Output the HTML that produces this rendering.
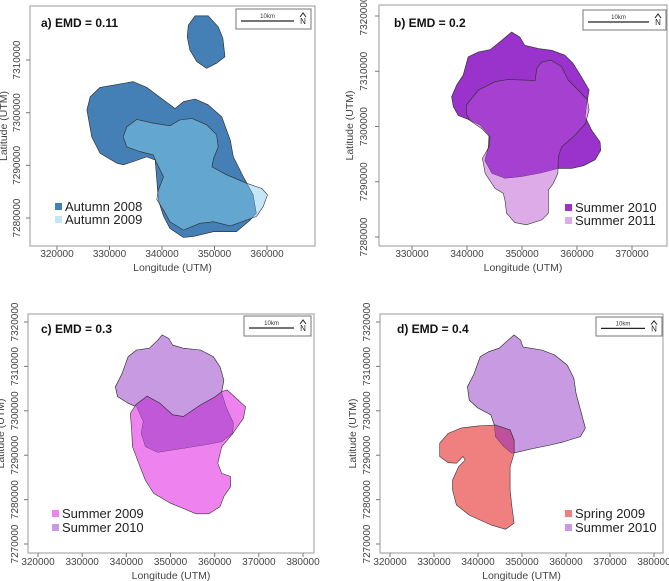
<!DOCTYPE html>
<html><head><meta charset="utf-8">
<style>
html,body{margin:0;padding:0;background:#fff;}
svg{display:block;font-family:"Liberation Sans",sans-serif;}
</style></head>
<body>
<svg id="chart" width="669" height="581" viewBox="0 0 669 581" xmlns="http://www.w3.org/2000/svg"></svg>
<script>
// ---------- data (UTM, thousands of metres) ----------
const aSeries = ["Autumn 2008", "Autumn 2009"];
const aAutumn2008Small = [[346.3,7318.4],[348.8,7318.4],[350.7,7316.3],[351.6,7314.1],[352.0,7310.6],[350.4,7309.4],[348.5,7308.4],[346.6,7309.7],[345.3,7311.9],[344.8,7314.4],[345.0,7316.6]];
const aAutumn2008 = [[328.2,7304.8],[334.5,7305.9],[337.1,7304.8],[340.3,7302.4],[342.5,7300.8],[344.1,7302.1],[346.3,7302.6],[348.8,7301.5],[351.4,7299.2],[353.0,7294.8],[353.6,7291.6],[355.5,7287.8],[357.4,7284.4],[358.0,7280.9],[356.8,7279.6],[354.2,7277.4],[349.8,7277.4],[346.0,7276.5],[344.1,7276.3],[341.5,7278.0],[340.3,7280.3],[339.3,7283.4],[339.0,7287.2],[338.7,7291.0],[337.1,7291.6],[334.5,7290.7],[332.6,7290.1],[331.4,7290.4],[328.2,7292.3],[326.6,7295.4],[325.7,7300.5],[326.3,7303.0]];
const aAutumn2009 = [[333.3,7297.3],[335.2,7298.7],[338.3,7298.0],[341.5,7297.5],[343.4,7298.6],[345.7,7298.9],[348.5,7297.7],[350.4,7295.8],[350.7,7293.5],[349.8,7291.3],[349.5,7289.7],[352.3,7288.2],[356.1,7286.6],[359.0,7285.6],[360.1,7284.4],[359.3,7282.2],[358.0,7280.3],[356.1,7279.6],[353.0,7278.5],[349.8,7279.3],[347.2,7279.0],[344.1,7277.7],[341.5,7279.3],[340.3,7281.5],[339.0,7283.5],[339.3,7285.3],[340.3,7287.8],[339.0,7290.4],[338.3,7292.0],[335.8,7292.6],[333.3,7293.5],[332.6,7295.4]];

const bSeries = ["Summer 2010", "Summer 2011"];
const bSummer2010 = [[340.2,7312.6],[342.1,7313.5],[344.2,7313.9],[346.3,7315.6],[348.1,7317.1],[349.6,7316.2],[350.5,7314.7],[353.0,7314.1],[355.4,7313.8],[357.8,7312.9],[359.3,7311.4],[360.8,7309.0],[362.2,7306.6],[361.8,7304.2],[361.5,7301.7],[362.7,7299.3],[364.2,7297.2],[364.3,7295.7],[363.3,7294.0],[361.2,7292.9],[359.0,7292.4],[356.6,7292.4],[353.6,7291.6],[349.9,7290.9],[346.9,7290.6],[344.5,7291.5],[343.2,7293.9],[343.9,7296.3],[344.0,7298.4],[342.4,7300.2],[340.2,7301.3],[338.4,7302.0],[337.5,7303.6],[337.2,7305.4],[338.1,7307.5],[339.3,7309.3]];
const bSummer2011 = [[339.9,7303.9],[342.1,7306.6],[345.1,7308.1],[347.5,7308.5],[350.2,7308.4],[352.4,7308.3],[352.7,7310.5],[353.6,7311.7],[355.3,7312.0],[357.2,7310.8],[358.4,7308.4],[360.2,7306.6],[361.9,7304.8],[362.2,7303.0],[361.5,7300.5],[359.6,7298.4],[357.2,7296.3],[356.6,7294.5],[356.5,7291.5],[355.7,7289.7],[354.8,7288.5],[354.8,7284.3],[353.6,7283.1],[350.8,7282.2],[348.7,7282.6],[347.2,7284.3],[346.9,7286.7],[346.6,7287.9],[345.1,7288.8],[343.3,7291.5],[342.8,7294.2],[344.0,7296.3],[344.2,7298.1],[342.7,7299.6],[340.5,7301.1],[339.9,7302.3]];

const cSeries = ["Summer 2009", "Summer 2010"];
const cSummer2010 = [[348.1,7317.1],[349.6,7316.3],[350.5,7314.8],[352.9,7314.1],[356.8,7313.7],[359.7,7312.2],[361.2,7309.9],[362.1,7306.9],[361.6,7304.2],[362.6,7300.9],[364.3,7297.2],[364.1,7294.9],[361.6,7293.0],[357.8,7292.3],[352.9,7291.5],[347.1,7290.6],[344.3,7291.9],[343.3,7294.9],[343.8,7297.6],[342.3,7300.9],[340.4,7301.7],[338.0,7303.2],[337.5,7305.4],[338.9,7308.1],[340.4,7312.2],[342.3,7313.7],[345.2,7314.1],[347.1,7315.9]];
const cSummer2009 = [[340.9,7299.4],[342.1,7301.3],[344.7,7303.3],[347.6,7301.7],[350.5,7299.1],[352.9,7298.7],[356.8,7301.3],[360.2,7303.2],[361.6,7304.3],[362.8,7304.7],[364.5,7303.2],[367.0,7300.9],[366.5,7298.3],[364.1,7294.9],[361.6,7291.9],[360.7,7288.2],[361.6,7285.9],[363.6,7285.2],[363.6,7282.9],[362.1,7280.7],[361.2,7278.4],[358.7,7276.8],[355.8,7276.8],[352.9,7278.0],[350.0,7279.2],[346.2,7281.4],[344.3,7284.4],[342.8,7288.2],[341.4,7291.9],[341.2,7295.7]];

const dSeries = ["Spring 2009", "Summer 2010"];
const dSummer2010 = [[348.2,7317.1],[349.7,7315.9],[350.2,7314.4],[354.5,7313.7],[357.4,7312.6],[360.3,7310.3],[361.8,7307.3],[362.3,7303.9],[363.7,7298.7],[364.4,7296.1],[363.3,7294.2],[359.4,7293.0],[356.5,7292.3],[352.6,7291.5],[347.7,7290.4],[345.8,7291.9],[343.9,7294.2],[343.7,7296.8],[342.9,7299.1],[340.0,7300.6],[338.0,7302.4],[337.6,7305.4],[339.0,7308.1],[340.5,7312.2],[342.4,7313.3],[344.8,7314.1],[346.8,7315.9]];
const dSpring2009 = [[343.9,7296.8],[347.3,7295.7],[348.2,7293.4],[348.2,7290.4],[347.3,7287.4],[347.3,7282.2],[347.7,7278.4],[348.2,7274.7],[346.3,7273.3],[342.9,7274.3],[338.0,7276.5],[335.1,7278.8],[334.2,7282.2],[334.2,7284.4],[335.6,7287.4],[337.1,7288.9],[336.6,7289.7],[335.1,7288.2],[333.2,7288.3],[331.3,7289.7],[331.3,7292.7],[333.2,7294.9],[336.1,7296.1],[340.0,7296.6]];

const aXTicks = [320,330,340,350,360];
const aYTicks = [7280,7290,7300,7310];
const bXTicks = [330,340,350,360,370];
const bYTicks = [7280,7290,7300,7310,7320];
const cdXTicks = [320,330,340,350,360,370,380];
const cdYTicks = [7270,7280,7290,7300,7310,7320];
const titles = ["a) EMD = 0.11","b) EMD = 0.2","c) EMD = 0.3","d) EMD = 0.4"];

// ---------- layout ----------
const NS = "http://www.w3.org/2000/svg";
const svg = document.getElementById("chart");
function mk(tag, attrs, parent){
  const e = document.createElementNS(NS, tag);
  for (const k in attrs) e.setAttribute(k, attrs[k]);
  (parent||svg).appendChild(e);
  return e;
}
const panels = [
  {id:"a", box:[30,6,315,246], xd:[320,360], xr:[57,267], yd:[7280,7310], yr:[218,60], xt:aXTicks, yt:aYTicks,
   title:[41,27], scale:[236,9,75,20], leg:[55,207,13], ylabX:20, latX:7, xlabY:257, lonY:271,
   polys:[{d:aAutumn2008, c:"#4480b6"},{d:aAutumn2008Small, c:"#4480b6"},{d:aAutumn2009, c:"#c4e6f6"}],
   overlap:{top:aAutumn2009, clip:[aAutumn2008, aAutumn2008Small], c:"#63a6d0"},
   legend:[{n:aSeries[0], c:"#4480b6"},{n:aSeries[1], c:"#c4e6f6"}]},
  {id:"b", box:[379,5,667,246], xd:[330,370], xr:[412,632], yd:[7280,7320], yr:[237,16], xt:bXTicks, yt:bYTicks,
   title:[394,27], scale:[583,10,83,20], leg:[565,208,13], ylabX:367, latX:353, xlabY:257, lonY:271,
   polys:[{d:bSummer2010, c:"#9a33cc"},{d:bSummer2011, c:"#dcabe8"}],
   overlap:{top:bSummer2011, clip:[bSummer2010], c:"#a640d0"},
   legend:[{n:bSeries[0], c:"#9a33cc"},{n:bSeries[1], c:"#dcabe8"}]},
  {id:"c", box:[28,314,314,553], xd:[320,380], xr:[38,303], yd:[7270,7320], yr:[544,322], xt:cdXTicks, yt:cdYTicks,
   title:[41,333], scale:[244,316,67,20], leg:[52,514,14], ylabX:18, latX:4, xlabY:565, lonY:579,
   polys:[{d:cSummer2010, c:"#c89ae2"},{d:cSummer2009, c:"#ee82ee"}],
   overlap:{top:cSummer2009, clip:[cSummer2010], c:"#c058d8"},
   legend:[{n:cSeries[0], c:"#ee82ee"},{n:cSeries[1], c:"#c89ae2"}]},
  {id:"d", box:[380,314,663,553], xd:[320,380], xr:[390,654], yd:[7270,7320], yr:[544,322], xt:cdXTicks, yt:cdYTicks,
   title:[397,333], scale:[596,317,66,19], leg:[565,514,14], ylabX:370, latX:356, xlabY:565, lonY:579,
   polys:[{d:dSummer2010, c:"#c89ae2"},{d:dSpring2009, c:"#f08080"}],
   overlap:{top:dSpring2009, clip:[dSummer2010], c:"#be509c"},
   legend:[{n:dSeries[0], c:"#f08080"},{n:dSeries[1], c:"#c89ae2"}]}
];

panels.forEach((p, pi) => {
  const sx = v => p.xr[0] + (v - p.xd[0]) * (p.xr[1]-p.xr[0])/(p.xd[1]-p.xd[0]);
  const sy = v => p.yr[0] + (v - p.yd[0]) * (p.yr[1]-p.yr[0])/(p.yd[1]-p.yd[0]);
  const pts = arr => arr.map(q => sx(q[0]).toFixed(1)+","+sy(q[1]).toFixed(1)).join(" ");
  const g = mk("g", {});
  
  
  const [x0,y0,x1,y1] = p.box;

  p.polys.forEach((poly, i) => {
    const e = mk("polygon", {points: pts(poly.d), fill: poly.c, stroke: "#333", "stroke-width": 0.6, "stroke-linejoin":"round"}, g);
    
    
  });
  // overlap region
  const cid = "clip-" + p.id;
  const cp = mk("clipPath", {id: cid}, g);
  p.overlap.clip.forEach(cl => mk("polygon", {points: pts(cl)}, cp));
  const ov = mk("polygon", {points: pts(p.overlap.top), fill: p.overlap.c, stroke: "#333", "stroke-width": 0.6, "clip-path": "url(#"+cid+")"}, g);
  
  
  p.overlap.clip.forEach(cl => {
    const e = mk("polygon", {points: pts(cl), fill: "none", stroke: "#333", "stroke-width": 0.6, "clip-path": "url(#"+cid+")"}, g);
    
    
  });

  // frame
  const fr = mk("rect", {x:x0, y:y0, width:x1-x0, height:y1-y0, fill:"none", stroke:"#999", "stroke-width":1}, g);
  
  

  // x ticks
  p.xt.forEach(v => {
    const X = sx(v);
    const t = mk("line", {x1:X, x2:X, y1:y1, y2:y1+4, stroke:"#777", "stroke-width":1}, g);
    
    
    const tx = mk("text", {x:X, y:p.xlabY, "text-anchor":"middle", "font-size":10, fill:"#444"}, g);
    tx.textContent = (v*1000).toString();
    
    
  });
  p.yt.forEach(v => {
    const Y = sy(v);
    const t = mk("line", {x1:x0-4, x2:x0, y1:Y, y2:Y, stroke:"#777", "stroke-width":1}, g);
    
    
    const tx = mk("text", {x:p.ylabX, y:Y, "text-anchor":"middle", "font-size":10, fill:"#444", transform:"rotate(-90 "+p.ylabX+" "+Y+")"}, g);
    tx.textContent = (v*1000).toString();
    
    
  });
  const lon = mk("text", {x:(x0+x1)/2, y:p.lonY, "text-anchor":"middle", "font-size":10.5, fill:"#444"}, g);
  lon.textContent = "Longitude (UTM)";
  
  
  const lcy = (y0+y1)/2;
  const lat = mk("text", {x:p.latX, y:lcy, "text-anchor":"middle", "font-size":10.5, fill:"#444", transform:"rotate(-90 "+p.latX+" "+lcy+")"}, g);
  lat.textContent = "Latitude (UTM)";
  
  

  const ti = mk("text", {x:p.title[0], y:p.title[1], "font-size":12, "font-weight":"bold", fill:"#111"}, g);
  ti.textContent = titles[pi];
  
  

  // scale bar
  const [bx,by,bw,bh] = p.scale;
  const sb = mk("g", {}, g);
  
  
  mk("rect", {x:bx, y:by, width:bw, height:bh, fill:"#fff", stroke:"#777", "stroke-width":1}, sb);
  mk("line", {x1:bx+5, x2:bx+bw-17, y1:by+bh*0.6, y2:by+bh*0.6, stroke:"#222", "stroke-width":1.2}, sb);
  const sk = mk("text", {x:bx+(bw-12)/2, y:by+bh*0.45, "text-anchor":"middle", "font-size":6, fill:"#333"}, sb);
  sk.textContent = "10km";
  const na = mk("text", {x:bx+bw-8, y:by+bh*0.75, "text-anchor":"middle", "font-size":8, fill:"#222"}, sb);
  na.textContent = "N";
  mk("path", {d:"M"+(bx+bw-11)+","+(by+bh*0.4)+" L"+(bx+bw-8)+","+(by+bh*0.2)+" L"+(bx+bw-5)+","+(by+bh*0.4), fill:"none", stroke:"#222", "stroke-width":1}, sb);

  // legend
  const [lx,ly,lh] = p.leg;
  p.legend.forEach((le, i) => {
    const lg = mk("g", {}, g);
    
    
    mk("rect", {x:lx, y:ly + i*lh - 4, width:7, height:7, fill:le.c}, lg);
    const lt = mk("text", {x:lx+10, y:ly + i*lh + 4, "font-size":13, fill:"#222"}, lg);
    lt.textContent = le.n;
  });
});
</script>
</body></html>
